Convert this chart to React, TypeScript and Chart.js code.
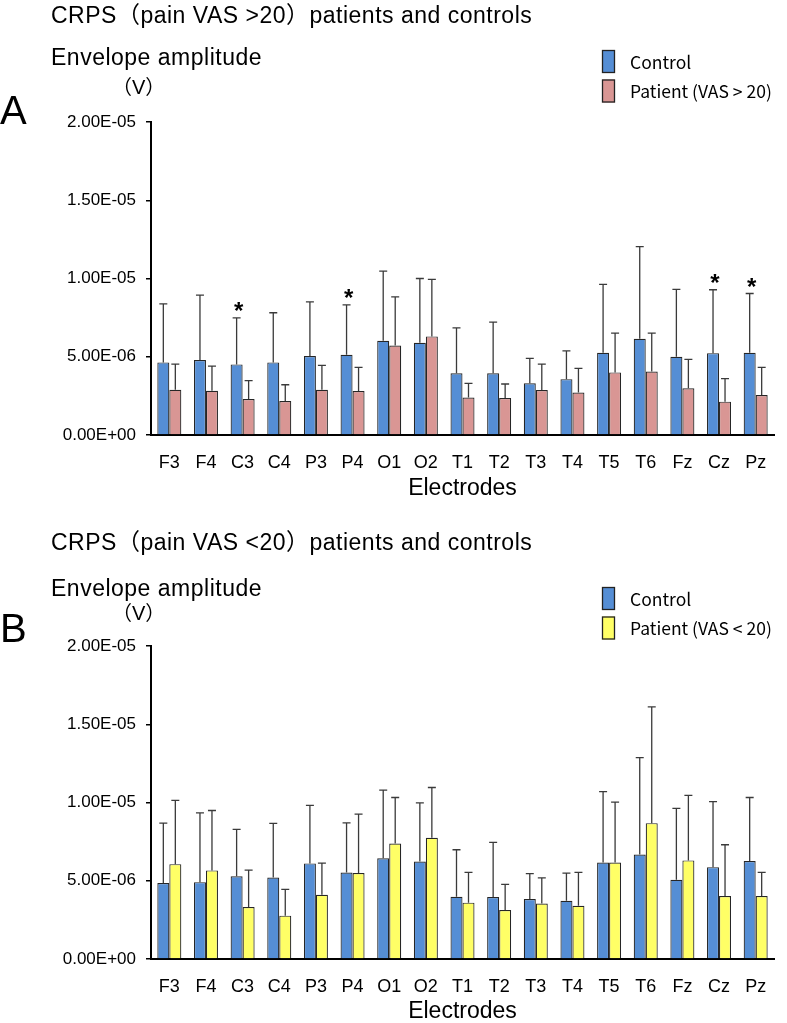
import { useEffect, useRef } from 'react'
import { Chart, registerables, type Plugin } from 'chart.js'

Chart.register(...registerables)

const electrodes = ['F3', 'F4', 'C3', 'C4', 'P3', 'P4', 'O1', 'O2', 'T1', 'T2', 'T3', 'T4', 'T5', 'T6', 'Fz', 'Cz', 'Pz']

// panel A: VAS > 20
const controlA = [4.64e-6, 4.79e-6, 4.51e-6, 4.64e-6, 5.04e-6, 5.13e-6, 6.02e-6, 5.89e-6, 3.94e-6, 3.94e-6, 3.30e-6, 3.57e-6, 5.26e-6, 6.15e-6, 5.00e-6, 5.23e-6, 5.26e-6]
const controlSdA = [3.74e-6, 4.15e-6, 2.98e-6, 3.17e-6, 3.47e-6, 3.19e-6, 4.45e-6, 4.11e-6, 2.91e-6, 3.27e-6, 1.59e-6, 1.81e-6, 4.36e-6, 5.89e-6, 4.30e-6, 4.05e-6, 3.78e-6]
const patientA = [2.89e-6, 2.83e-6, 2.30e-6, 2.17e-6, 2.89e-6, 2.81e-6, 5.72e-6, 6.30e-6, 2.40e-6, 2.36e-6, 2.87e-6, 2.72e-6, 4.00e-6, 4.06e-6, 2.98e-6, 2.13e-6, 2.55e-6]
const patientSdA = [1.64e-6, 1.57e-6, 1.17e-6, 1.04e-6, 1.56e-6, 1.51e-6, 3.11e-6, 3.64e-6, 0.90e-6, 0.90e-6, 1.66e-6, 1.54e-6, 2.51e-6, 2.45e-6, 1.85e-6, 1.47e-6, 1.77e-6]
const starsA = ['C3', 'P4', 'Cz', 'Pz']

// panel B: VAS < 20
const controlB = [4.85e-6, 4.91e-6, 5.28e-6, 5.21e-6, 6.11e-6, 5.53e-6, 6.43e-6, 6.23e-6, 3.98e-6, 3.96e-6, 3.83e-6, 3.72e-6, 6.17e-6, 6.68e-6, 5.06e-6, 5.87e-6, 6.26e-6]
const controlSdB = [3.83e-6, 4.43e-6, 3.00e-6, 3.45e-6, 3.70e-6, 3.17e-6, 4.36e-6, 3.75e-6, 3.00e-6, 3.49e-6, 1.62e-6, 1.77e-6, 4.53e-6, 6.19e-6, 4.56e-6, 4.19e-6, 4.06e-6]
const patientB = [6.06e-6, 5.66e-6, 3.32e-6, 2.77e-6, 4.11e-6, 5.49e-6, 7.38e-6, 7.74e-6, 3.60e-6, 3.13e-6, 3.55e-6, 3.40e-6, 6.17e-6, 8.68e-6, 6.30e-6, 4.02e-6, 4.02e-6]
const patientSdB = [4.07e-6, 3.83e-6, 2.36e-6, 1.68e-6, 2.02e-6, 3.77e-6, 2.94e-6, 3.22e-6, 1.93e-6, 1.64e-6, 1.64e-6, 2.13e-6, 3.85e-6, 7.43e-6, 4.15e-6, 3.28e-6, 1.51e-6]
const starsB: string[] = []

const yTicks = [0, 5e-6, 1e-5, 1.5e-5, 2e-5]

const BLUE = '#558ED5'
const PINK = '#D99694'
const YELLOW = '#FFFF66'
const SANS = "'Liberation Sans', Arial, 'Noto Sans CJK JP', sans-serif"
const LEGEND_FONT = "'Noto Sans CJK JP', 'Noto Sans', sans-serif"
const PLOT_H = 313

function sci(v: number) {
  const [m, e] = v.toExponential(2).split('e')
  const sign = e.startsWith('-') ? '-' : '+'
  return `${m}E${sign}${e.replace(/[+-]/, '').padStart(2, '0')}`
}

interface PanelProps {
  top: number
  height: number
  plotTop: number
  title: string
  letter: string
  patientLabel: string
  patientColor: string
  control: number[]
  controlSd: number[]
  patient: number[]
  patientSd: number[]
  stars: string[]
  titleY: number
  envY: number
  unitY: number
  letterY: number
  legendTop: number
  xTitleBelow: number
}

function Panel(p: PanelProps) {
  const chartRef = useRef<HTMLCanvasElement>(null)
  const chartInstance = useRef<Chart | null>(null)

  useEffect(() => {
    if (!chartRef.current) return
    chartInstance.current?.destroy()
    const ctx = chartRef.current.getContext('2d')
    if (!ctx) return

    const xHeight = p.height - p.plotTop - PLOT_H
    const sds = [p.controlSd, p.patientSd]

    const errorBars: Plugin<'bar'> = {
      id: 'errorBars',
      afterDatasetsDraw(chart) {
        const c = chart.ctx
        const y = chart.scales.y
        c.save()
        c.strokeStyle = '#3a3a3a'
        c.lineWidth = 1.3
        chart.data.datasets.forEach((ds, i) => {
          chart.getDatasetMeta(i).data.forEach((el, j) => {
            const v = ds.data[j] as number
            const yTop = y.getPixelForValue(v + sds[i][j])
            c.beginPath()
            c.moveTo(el.x, el.y)
            c.lineTo(el.x, yTop)
            c.moveTo(el.x - 4, yTop)
            c.lineTo(el.x + 4, yTop)
            c.stroke()
            if (i === 0 && p.stars.includes(electrodes[j])) {
              c.fillStyle = '#000'
              c.font = `bold 24px ${SANS}`
              c.textAlign = 'center'
              c.textBaseline = 'alphabetic'
              c.fillText('*', el.x + 2, yTop + 1)
            }
          })
        })
        c.restore()
      },
    }

    const boxLegend: Plugin<'bar'> = {
      id: 'boxLegend',
      afterDraw(chart) {
        const c = chart.ctx
        c.save()
        chart.data.datasets.forEach((ds, i) => {
          const y = p.legendTop + i * 29.5
          c.fillStyle = ds.backgroundColor as string
          c.fillRect(602, y, 13, 23)
          c.strokeStyle = '#222'
          c.lineWidth = 1.3
          c.strokeRect(602.5, y + 0.5, 12, 22)
          c.fillStyle = '#000'
          c.font = `17.5px ${LEGEND_FONT}`
          c.textAlign = 'left'
          c.textBaseline = 'middle'
          c.fillText(ds.label ?? '', 630, y + 12)
        })
        c.restore()
      },
    }

    chartInstance.current = new Chart(ctx, {
      type: 'bar',
      data: {
        labels: electrodes,
        datasets: [
          { label: 'Control', data: p.control, backgroundColor: BLUE, borderColor: '#262626', borderWidth: 1.2 },
          { label: p.patientLabel, data: p.patient, backgroundColor: p.patientColor, borderColor: '#262626', borderWidth: 1.2 },
        ],
      },
      options: {
        animation: false,
        responsive: true,
        maintainAspectRatio: false,
        layout: { padding: { left: 46, top: p.plotTop, right: 13, bottom: 0 } },
        datasets: { bar: { categoryPercentage: 0.655, barPercentage: 1 } },
        scales: {
          x: {
            grid: { display: false },
            border: { display: true, color: '#000', width: 2 },
            ticks: { color: '#000', font: { family: SANS, size: 18 }, padding: 9, maxRotation: 0, autoSkip: false },
            title: {
              display: true,
              text: 'Electrodes',
              color: '#000',
              font: { family: SANS, size: 23 },
              padding: { top: 0, bottom: xHeight - p.xTitleBelow - 13.8 },
            },
            afterFit: (scale) => { scale.height = xHeight },
          },
          y: {
            min: 0,
            max: 2e-5,
            afterBuildTicks: (scale) => { scale.ticks = yTicks.map(value => ({ value })) },
            ticks: { color: '#000', font: { family: SANS, size: 17 }, padding: 10, callback: (v) => sci(Number(v)) },
            grid: { drawOnChartArea: false, tickLength: 5, color: '#000', lineWidth: 1.5 },
            border: { display: true, color: '#000', width: 2 },
            afterFit: (scale) => { scale.width = 105 },
          },
        },
        plugins: {
          legend: { display: false },
          tooltip: { enabled: false },
        },
      },
      plugins: [errorBars, boxLegend],
    })

    return () => {
      chartInstance.current?.destroy()
      chartInstance.current = null
    }
  }, [p])

  const text = (centerY: number, size: number, lh: number) => ({
    position: 'absolute' as const,
    top: centerY - lh / 2,
    lineHeight: `${lh}px`,
    fontSize: size,
    fontFamily: SANS,
    color: '#000',
    whiteSpace: 'nowrap' as const,
  })

  return (
    <div style={{ position: 'absolute', left: 0, top: p.top, width: 787, height: p.height }}>
      <canvas ref={chartRef} />
      <div style={{ ...text(p.titleY, 23, 26), left: 51, letterSpacing: 0.5 }}>{p.title}</div>
      <div style={{ ...text(p.envY, 23, 26), left: 51, letterSpacing: 0.5 }}>Envelope amplitude</div>
      <div style={{ ...text(p.unitY, 20, 24), left: 112 }}>（V）</div>
      <div style={{ ...text(p.letterY, 40, 46), left: 0 }}>{p.letter}</div>
    </div>
  )
}

const panelA: PanelProps = {
  top: 0, height: 510, plotTop: 122,
  title: 'CRPS（pain VAS >20）patients and controls', letter: 'A',
  patientLabel: 'Patient (VAS > 20)', patientColor: PINK,
  control: controlA, controlSd: controlSdA, patient: patientA, patientSd: patientSdA, stars: starsA,
  titleY: 15, envY: 57, unitY: 87, letterY: 110, legendTop: 50, xTitleBelow: 54,
}

const panelB: PanelProps = {
  top: 510, height: 513, plotTop: 136,
  title: 'CRPS（pain VAS <20）patients and controls', letter: 'B',
  patientLabel: 'Patient (VAS < 20)', patientColor: YELLOW,
  control: controlB, controlSd: controlSdB, patient: patientB, patientSd: patientSdB, stars: starsB,
  titleY: 32, envY: 78, unitY: 103, letterY: 118, legendTop: 77, xTitleBelow: 53,
}

export default function App() {
  return (
    <div style={{ position: 'absolute', left: 0, top: 0, width: 787, height: 1023, background: '#fff', overflow: 'hidden' }}>
      <Panel {...panelA} />
      <Panel {...panelB} />
    </div>
  )
}
